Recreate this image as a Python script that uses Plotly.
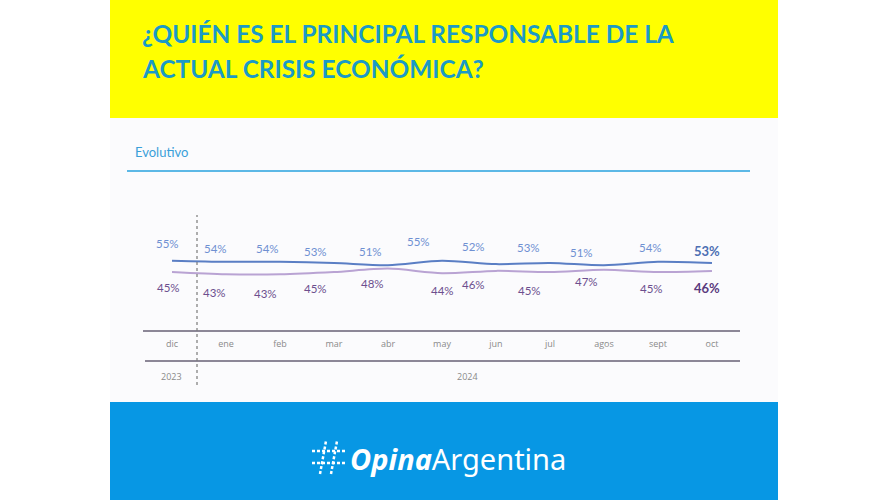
import plotly.graph_objects as go

# ---- data ----
months = ["dic", "ene", "feb", "mar", "abr", "may", "jun", "jul", "agos", "sept", "oct"]
years = ["2023", "2024"]
serie_a = [55, 54, 54, 53, 51, 55, 52, 53, 51, 54, 53]   # blue
serie_b = [45, 43, 43, 45, 48, 44, 46, 45, 47, 45, 46]   # purple

# ---- style constants (label offsets in px) ----
a_dx = [-5, -10, -12, -18, -17, -23, -22, -21, -22, -7, -5]
a_dy = [17, 13, 13, 11, 14, 19, 18, 15, 13, 14, 12]
b_dx = [-4, -11, -14, -18, -15, 1, -22, -20, -17, -6, -5]
b_dy = [-15, -18, -19, -16, -15, -17, -14, -18, -12, -16, -17]

W, H = 888, 500
def px(x):
    return x / W
def py(y):
    return 1 - y / H

BLUE_LINE = "#5a7ec4"
PURPLE_LINE = "#b9a3d3"
BLUE_TXT = "#6f90d2"
PURPLE_TXT = "#6c4f8e"

fig = go.Figure()
fig.add_trace(go.Scatter(x=months, y=serie_a, mode="lines",
                         line=dict(color=BLUE_LINE, width=2, shape="spline", smoothing=0.8),
                         hoverinfo="skip", showlegend=False))
fig.add_trace(go.Scatter(x=months, y=serie_b, mode="lines",
                         line=dict(color=PURPLE_LINE, width=2, shape="spline", smoothing=0.8),
                         hoverinfo="skip", showlegend=False))

annotations = []
last = len(months) - 1
for i, m in enumerate(months):
    bold = i == last
    annotations.append(dict(
        x=m, y=serie_a[i], xref="x", yref="y", text=f"<b>{serie_a[i]}%</b>" if bold else f"{serie_a[i]}%",
        showarrow=False, xshift=a_dx[i], yshift=a_dy[i], xanchor="center", yanchor="middle",
        font=dict(family="Lato, sans-serif", size=13 if bold else 11.5, color="#4d6fb3" if bold else BLUE_TXT)))
    annotations.append(dict(
        x=m, y=serie_b[i], xref="x", yref="y", text=f"<b>{serie_b[i]}%</b>" if bold else f"{serie_b[i]}%",
        showarrow=False, xshift=b_dx[i], yshift=b_dy[i], xanchor="center", yanchor="middle",
        font=dict(family="Lato, sans-serif", size=13 if bold else 11.5, color="#5a3a7e" if bold else PURPLE_TXT)))

# year labels
annotations.append(dict(x=px(171), y=py(376), xref="paper", yref="paper", text=years[0], showarrow=False,
                        xanchor="center", yanchor="middle",
                        font=dict(family="Open Sans, sans-serif", size=9, color="#8a8a8a")))
annotations.append(dict(x=px(467), y=py(376), xref="paper", yref="paper", text=years[1], showarrow=False,
                        xanchor="center", yanchor="middle",
                        font=dict(family="Open Sans, sans-serif", size=9, color="#8a8a8a")))

# title
annotations.append(dict(x=px(140), y=py(33), xref="paper", yref="paper", xanchor="left", yanchor="middle",
                        text="<b>¿QUIÉN ES EL PRINCIPAL RESPONSABLE DE LA</b>", showarrow=False,
                        font=dict(family="Lato, sans-serif", size=24.4, color="#1b9ac6")))
annotations.append(dict(x=px(140), y=py(68), xref="paper", yref="paper", xanchor="left", yanchor="middle",
                        text="<b>ACTUAL CRISIS ECONÓMICA?</b>", showarrow=False,
                        font=dict(family="Lato, sans-serif", size=24.4, color="#1b9ac6")))
# subtitle
annotations.append(dict(x=px(133), y=py(152), xref="paper", yref="paper", xanchor="left", yanchor="middle",
                        text="Evolutivo", showarrow=False,
                        font=dict(family="Lato, sans-serif", size=13, color="#3a9fd9")))
# logo text
annotations.append(dict(x=px(348), y=py(458), xref="paper", yref="paper", xanchor="left", yanchor="middle",
                        text="<b><i>Opina</i></b>Argentina", showarrow=False,
                        font=dict(family="Noto Sans, sans-serif", size=29, color="white")))

shapes = [
    dict(type="rect", xref="paper", yref="paper", x0=px(110), x1=px(778), y0=py(118), y1=py(0),
         fillcolor="#ffff00", line=dict(width=0), layer="below"),
    dict(type="rect", xref="paper", yref="paper", x0=px(110), x1=px(778), y0=py(402), y1=py(118),
         fillcolor="#fbfbfd", line=dict(width=0), layer="below"),
    dict(type="rect", xref="paper", yref="paper", x0=px(110), x1=px(778), y0=py(500), y1=py(402),
         fillcolor="#0797e4", line=dict(width=0), layer="below"),
    dict(type="line", xref="paper", yref="paper", x0=px(127), x1=px(750), y0=py(171), y1=py(171),
         line=dict(color="#5cb8e6", width=2)),
    dict(type="line", xref="paper", yref="paper", x0=px(145), x1=px(740), y0=py(361), y1=py(361),
         line=dict(color="#8c8797", width=2)),
    dict(type="line", xref="paper", yref="paper", x0=px(197), x1=px(197), y0=py(385), y1=py(215),
         line=dict(color="#7a7a7a", width=1.2, dash="3px,3px")),
]
# logo hash icon (dashed white strokes)
for (x0, y0, x1, y1) in [(312, 451, 346, 451), (312, 463, 346, 463),
                         (320, 474, 326, 441), (331, 474, 337, 441)]:
    shapes.append(dict(type="line", xref="paper", yref="paper", x0=px(x0), x1=px(x1), y0=py(y0), y1=py(y1),
                       line=dict(color="white", width=2.5, dash="3px,2px")))

fig.update_layout(
    width=W, height=H, margin=dict(l=0, r=0, t=0, b=0),
    paper_bgcolor="white", plot_bgcolor="rgba(0,0,0,0)",
    annotations=annotations, shapes=shapes, showlegend=False,
    xaxis=dict(domain=[px(143), px(740)], range=[-0.537, 10.519], type="category",
               showgrid=False, zeroline=False, showline=True, linecolor="#8c8797", linewidth=2,
               ticks="", ticklabelstandoff=4,
               tickfont=dict(family="Open Sans, sans-serif", size=9, color="#8a8a8a"),
               fixedrange=True),
    yaxis=dict(domain=[py(330), py(200)], range=[-6.3, 108.7], visible=False, fixedrange=True),
)

fig.write_html("out.html", config={"displayModeBar": False},
               post_script="document.body.style.margin='0';document.body.style.padding='0';")
